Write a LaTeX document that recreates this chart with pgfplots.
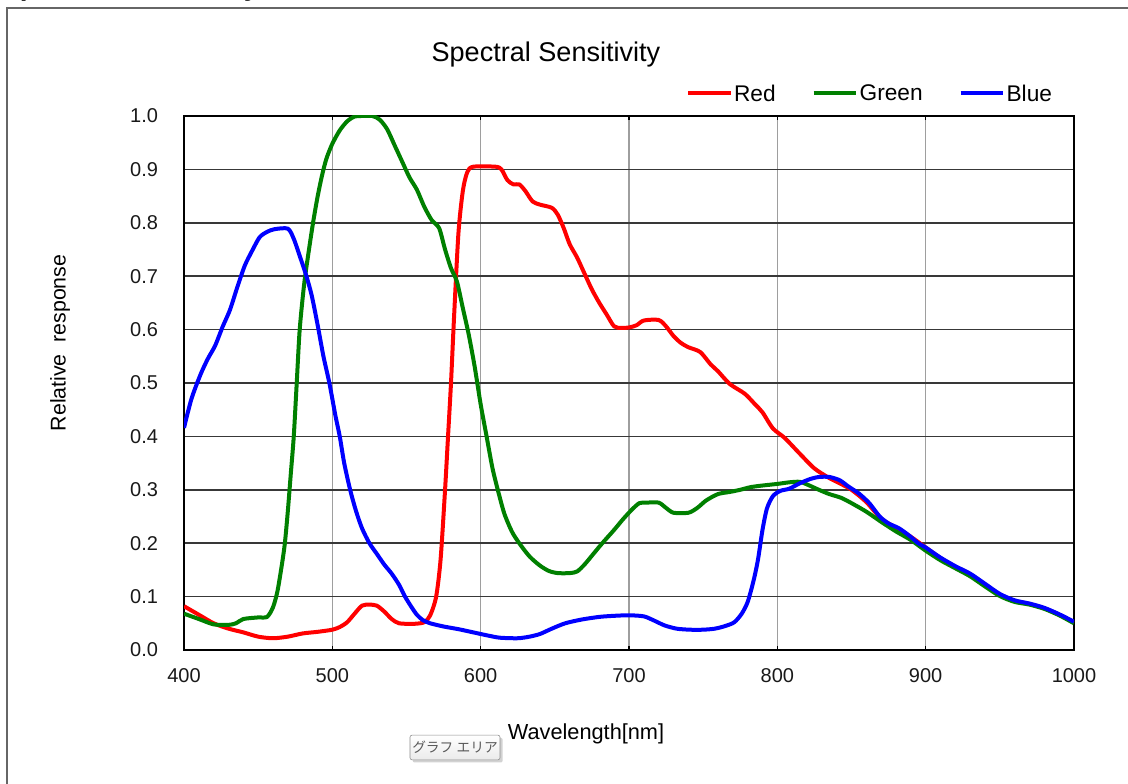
\documentclass[border=0pt]{standalone}
\usepackage{pgfplots}
\pgfplotsset{compat=1.18}
\usepackage{fontspec}
\setmainfont{Liberation Sans}
\newfontfamily\cjk{Noto Sans CJK JP}
\usetikzlibrary{shadows}

\definecolor{cRed}{HTML}{FF0000}
\definecolor{cGreen}{HTML}{008000}
\definecolor{cBlue}{HTML}{0000FF}

\newcommand{\fs}[1]{\fontsize{#1}{#1}\selectfont}

\begin{document}
\begin{tikzpicture}[x=0.75pt,y=0.75pt]
% page = 1128 x 784 px, y measured from the bottom
\path[use as bounding box, fill=white] (0,0) rectangle (1128,784);
\clip (0,0) rectangle (1128,784);

% cropped sheet heading and chart frame
\node[anchor=base west, inner sep=0pt, font=\bfseries\fs{21}] at (1,788) {Spectral Sensitivity};
\draw[black!60, line width=1.2pt] (7,-10) -- (7,776) -- (1140,776);

% plot area: px 184..1074 wide, 116..650 from the top
\begin{axis}[
    at={(138pt,100.5pt)}, anchor=south west,
    scale only axis, width=667.5pt, height=400.5pt,
    xmin=400, xmax=1000, ymin=0, ymax=1,
    xtick={400,500,600,700,800,900,1000},
    ytick={0,0.1,0.2,0.3,0.4,0.5,0.6,0.7,0.8,0.9,1.0},
    /pgf/number format/assume math mode=true,
    /pgf/number format/1000 sep={},
    tick label style={font=\fs{15}, text=black!90},
    xticklabel style={yshift=-10pt},
    yticklabel style={xshift=-16pt, /pgf/number format/.cd, fixed, fixed zerofill, precision=1},
    xtick align=inside, major tick length=3pt,
    xtick style={black, line width=1pt},
    ytick style={draw=none},
    xmajorgrids, ymajorgrids,
    x grid style={draw=black!38, line width=1.1pt},
    y grid style={draw=black!78, line width=1.1pt},
    axis line style={black, line width=1.1pt},
    title={Spectral Sensitivity},
    title style={at={(axis description cs:0.4067,1.101)}, anchor=center, font=\fs{20.3}},
    xlabel={Wavelength[nm]},
    xlabel style={at={(axis description cs:0.4517,-0.157)}, anchor=center, font=\fs{16.3}},
    ylabel={Relative\hspace{0.55em}response},
    ylabel style={at={(axis description cs:-0.1393,0.575)}, anchor=center, font=\fs{16}},
    legend columns=3,
    legend image code/.code={\draw[#1] (0pt,0pt) -- (32pt,0pt);},
    legend style={at={(axis description cs:0.5641,1.043)}, anchor=west,
        draw=none, fill=none, inner sep=0pt, outer sep=0pt, font=\fs{17},
        nodes={inner sep=1pt, text depth=0pt},
        /tikz/every even column/.append style={column sep=26pt}},
    every axis plot/.append style={line width=3pt, smooth, tension=0.45, line join=round},
]
\addplot[cRed] table {
400 0.082
410 0.066
420 0.050
430 0.040
440 0.033
450 0.025
460 0.022
470 0.025
480 0.031
490 0.034
500 0.038
505 0.043
510 0.052
515 0.068
520 0.083
525 0.085
530 0.083
535 0.072
540 0.058
545 0.050
555 0.049
562 0.052
566 0.065
570 0.100
573 0.170
576 0.300
578 0.400
580 0.500
582 0.620
585 0.780
588 0.860
591 0.895
595 0.905
610 0.905
614 0.900
618 0.880
622 0.872
626 0.872
630 0.860
635 0.840
640 0.834
648 0.828
652 0.815
656 0.790
660 0.760
665 0.735
670 0.705
675 0.675
680 0.650
685 0.628
690 0.606
695 0.603
700 0.604
705 0.608
710 0.617
720 0.618
725 0.606
730 0.588
735 0.575
740 0.567
748 0.558
755 0.535
760 0.522
768 0.498
778 0.480
785 0.460
790 0.445
797 0.415
805 0.397
815 0.368
825 0.340
835 0.322
840 0.315
850 0.300
860 0.277
870 0.246
880 0.229
890 0.212
900 0.192
910 0.172
920 0.156
930 0.142
940 0.122
950 0.104
960 0.092
970 0.086
980 0.078
990 0.066
1000 0.052
};
\addlegendentry{Red}
\addplot[cGreen] table {
400 0.068
410 0.058
420 0.048
430 0.047
435 0.050
440 0.058
450 0.061
456 0.062
460 0.080
463 0.110
466 0.160
468 0.200
470 0.260
472 0.330
474 0.400
476 0.500
478 0.600
481 0.685
484 0.745
487 0.800
490 0.848
493 0.888
496 0.920
500 0.948
505 0.973
510 0.990
515 0.999
520 1.000
527 1.000
532 0.993
537 0.975
542 0.945
547 0.915
552 0.885
557 0.862
562 0.830
567 0.805
572 0.790
576 0.750
580 0.715
584 0.690
588 0.640
592 0.590
596 0.530
600 0.460
604 0.400
608 0.340
612 0.295
616 0.255
621 0.222
626 0.200
633 0.175
640 0.158
646 0.148
652 0.144
660 0.144
665 0.147
670 0.160
676 0.180
682 0.200
690 0.225
696 0.245
702 0.263
707 0.275
712 0.276
720 0.276
725 0.266
730 0.257
740 0.257
746 0.266
752 0.280
760 0.292
768 0.296
775 0.300
782 0.305
790 0.308
800 0.311
808 0.314
815 0.315
820 0.310
828 0.300
835 0.292
843 0.285
850 0.275
860 0.259
870 0.240
880 0.222
890 0.206
900 0.186
910 0.168
920 0.153
930 0.138
940 0.119
950 0.101
960 0.090
970 0.085
980 0.077
990 0.065
1000 0.050
};
\addlegendentry{Green}
\addplot[cBlue] table {
400 0.416
405 0.470
411 0.515
416 0.545
421 0.570
426 0.605
431 0.637
436 0.680
441 0.720
446 0.748
451 0.773
456 0.783
461 0.788
470 0.789
474 0.770
478 0.738
482 0.705
486 0.665
490 0.610
494 0.550
498 0.500
502 0.440
505 0.400
508 0.350
512 0.300
516 0.260
520 0.228
525 0.200
530 0.180
535 0.160
540 0.143
545 0.122
549 0.100
553 0.082
557 0.066
561 0.056
566 0.050
575 0.044
585 0.039
595 0.033
605 0.027
613 0.023
625 0.022
633 0.025
640 0.030
648 0.040
657 0.050
668 0.057
680 0.062
690 0.064
700 0.065
710 0.063
717 0.055
724 0.046
732 0.040
741 0.038
750 0.038
758 0.040
765 0.045
771 0.052
776 0.068
780 0.090
784 0.130
787 0.170
790 0.225
793 0.265
797 0.288
802 0.298
808 0.302
815 0.312
822 0.320
828 0.324
835 0.324
842 0.318
848 0.306
855 0.293
862 0.275
869 0.250
875 0.237
882 0.228
889 0.214
895 0.200
900 0.192
910 0.173
920 0.157
930 0.143
940 0.124
950 0.105
960 0.093
970 0.087
980 0.079
990 0.067
1000 0.053
};
\addlegendentry{Blue}
\end{axis}

% Excel "chart area" tooltip
\node[draw=black!45, rounded corners=1.5pt, top color=white, bottom color=black!8,
      drop shadow={shadow xshift=2pt, shadow yshift=-2pt, opacity=0.35},
      minimum width=67.5pt, minimum height=18.5pt, inner sep=0pt,
      font=\cjk\fs{10.3}, text=black!65] at (455,36.5) {グラフ エリア};
\end{tikzpicture}
\end{document}
